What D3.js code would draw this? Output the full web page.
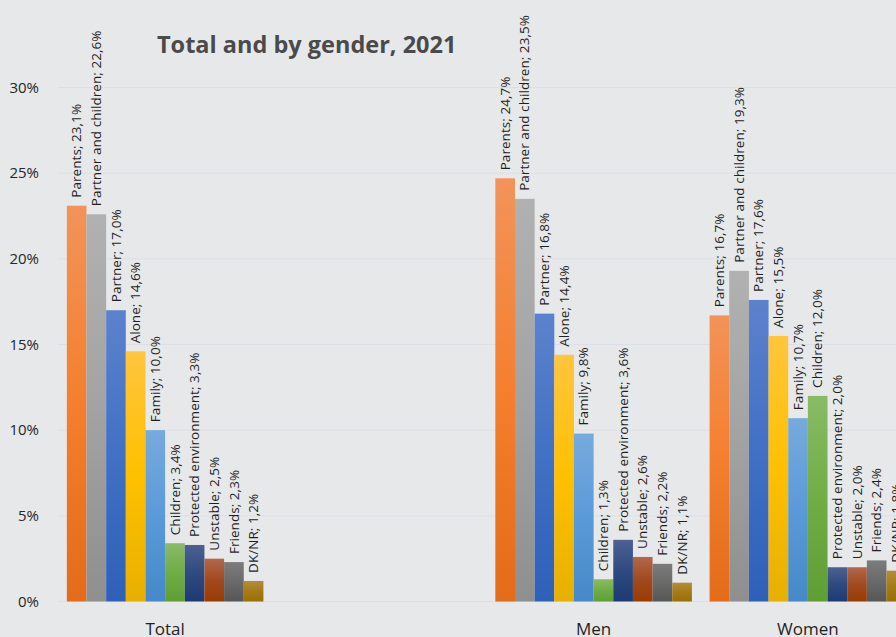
<!DOCTYPE html>
<html>
<head>
<meta charset="utf-8">
<script src="https://cdn.jsdelivr.net/npm/d3@7"></script>
<style>
  html, body { margin: 0; padding: 0; background: #e7e8ea; }
  svg { display: block; }
  text { font-family: "Open Sans", "DejaVu Sans", sans-serif; }
</style>
</head>
<body>
<script>
// Living situation, total and by gender, 2021 (percent)
const groups = ["Total", "", "Men", "Women"];
const series = ["Parents", "Partner and children", "Partner", "Alone", "Family",
                "Children", "Protected environment", "Unstable", "Friends", "DK/NR"];
const totalValues = [23.1, 22.6, 17.0, 14.6, 10.0, 3.4, 3.3, 2.5, 2.3, 1.2];
const menValues   = [24.7, 23.5, 16.8, 14.4, 9.8, 1.3, 3.6, 2.6, 2.2, 1.1];
const womenValues = [16.7, 19.3, 17.6, 15.5, 10.7, 12.0, 2.0, 2.0, 2.4, 1.8];
const yTicks = [0, 5, 10, 15, 20, 25, 30];
const title = "Total and by gender, 2021";

// gradient stops per series: [top, middle, bottom]
const seriesColors = [
  ["#f2935a", "#f57f2e", "#e36b1a"],
  ["#b1b1b1", "#a3a3a3", "#8f8f8f"],
  ["#5c82cd", "#4170c4", "#2f60b8"],
  ["#ffc53d", "#ffc000", "#e7b000"],
  ["#77aadd", "#5b9ad8", "#4688c8"],
  ["#89bb66", "#70ad47", "#5f9d35"],
  ["#4d6192", "#2e4a80", "#1d3a73"],
  ["#b3674b", "#a14a20", "#9a3b00"],
  ["#7c7c7c", "#6a6a6a", "#565656"],
  ["#b38c3c", "#a57b18", "#997000"]
];

const data = [
  { group: "Total", values: totalValues },
  { group: "Men", values: menValues },
  { group: "Women", values: womenValues }
];

const W = 896, H = 637;
const svg = d3.select("body").append("svg").attr("width", W).attr("height", H);

const defs = svg.append("defs");
series.forEach((s, i) => {
  const g = defs.append("linearGradient")
    .attr("id", "grad" + i).attr("x1", 0).attr("y1", 0).attr("x2", 0).attr("y2", 1);
  g.append("stop").attr("offset", "0%").attr("stop-color", seriesColors[i][0]);
  g.append("stop").attr("offset", "50%").attr("stop-color", seriesColors[i][1]);
  g.append("stop").attr("offset", "100%").attr("stop-color", seriesColors[i][2]);
});

const x0 = d3.scaleBand().domain(groups).range([58, 915]).padding(0);
const x1 = d3.scaleBand().domain(series).range([0, x0.bandwidth()]).paddingInner(0).paddingOuter(0.45);
const y = d3.scaleLinear().domain([0, 30]).range([601.5, 87.5]);

// gridlines
svg.append("g").selectAll("line").data(yTicks).join("line")
  .attr("x1", 58).attr("x2", W)
  .attr("y1", d => y(d)).attr("y2", d => y(d))
  .attr("stroke", "#dcdfe6").attr("stroke-width", 1);

// y axis labels
const yAxis = d3.axisLeft(y).tickValues(yTicks).tickFormat(d => d + "%").tickSize(0).tickPadding(0);
const ya = svg.append("g").attr("transform", "translate(39,0)").call(yAxis);
ya.select(".domain").remove();
ya.selectAll("text").attr("font-size", 15).attr("fill", "#262626")
  .style("font-family", '"Open Sans", sans-serif');

// title
svg.append("text").attr("x", 157).attr("y", 53)
  .attr("font-size", 23.5).attr("font-weight", "bold").attr("fill", "#4a4a4a")
  .text(title);

// bars
const gGroups = svg.append("g").selectAll("g").data(data).join("g")
  .attr("transform", d => `translate(${x0(d.group)},0)`);

gGroups.selectAll("rect").data(d => d.values.map((v, i) => ({ s: series[i], i, v })))
  .join("rect")
  .attr("x", d => x1(d.s))
  .attr("width", x1.bandwidth())
  .attr("y", d => y(d.v))
  .attr("height", d => y(0) - y(d.v))
  .attr("fill", d => `url(#grad${d.i})`);

// rotated value labels
const fmt = v => v.toFixed(1).replace(".", ",") + "%";
gGroups.selectAll("text.lbl").data(d => d.values.map((v, i) => ({ s: series[i], i, v })))
  .join("text").attr("class", "lbl")
  .attr("transform", d => `translate(${x1(d.s) + x1.bandwidth() / 2 + 1},${y(d.v) - 8}) rotate(-90)`)
  .attr("dominant-baseline", "middle")
  .attr("font-size", 13.5).attr("letter-spacing", 0.05).attr("fill", "#1f1f1f")
  .text(d => `${d.s}; ${fmt(d.v)}`);

// category labels
svg.append("g").selectAll("text").data(data).join("text")
  .attr("x", d => x0(d.group) + x0.bandwidth() / 2)
  .attr("y", 635)
  .attr("text-anchor", "middle")
  .attr("font-size", 17).attr("fill", "#1f1f1f")
  .text(d => d.group);
</script>
</body>
</html>
